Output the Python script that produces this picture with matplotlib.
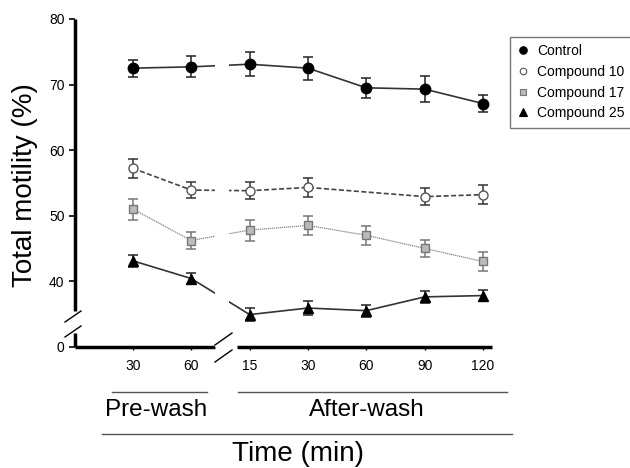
import numpy as np
import matplotlib.pyplot as plt
import matplotlib.transforms as mtransforms
from matplotlib.lines import Line2D

plt.rcParams['font.family'] = ['Liberation Sans', 'DejaVu Sans']

W, H = 630, 468

# time points (min); first two are pre-wash, rest after-wash
tick_labels = ['30', '60', '15', '30', '60', '90', '120']

control = [72.5, 72.7, 73.1, 72.5, 69.5, 69.3, 67.1]
control_err = [1.3, 1.6, 1.8, 1.75, 1.55, 2.0, 1.25]
comp10 = [57.2, 53.9, 53.8, 54.3, np.nan, 52.9, 53.2]
comp10_err = [1.4, 1.2, 1.3, 1.4, np.nan, 1.3, 1.5]
comp17 = [51.0, 46.2, 47.8, 48.5, 47.0, 45.0, 43.0]
comp17_err = [1.6, 1.3, 1.6, 1.4, 1.45, 1.35, 1.45]
comp25 = [43.1, 40.4, 34.9, 35.9, 35.5, 37.6, 37.8]
comp25_err = [0.9, 0.9, 1.0, 1.0, 0.9, 0.9, 0.9]


def px(x, y):
    # pixel position -> figure fraction
    return x / W, 1 - y / H


fig = plt.figure(figsize=(6.3, 4.68), dpi=100)
ax = fig.add_axes([75 / W, 1 - 346.7 / H, (491.7 - 75) / W, (346.7 - 19) / H])

x = np.arange(len(tick_labels))

series = [
    # label, values, errors, marker, ms, face, edge, linestyle, line colour, lw, err colour
    ('Control', control, control_err, 'o', 7.5, 'black', 'black', '-', '#333333', 1.2, '#222222'),
    ('Compound 10', comp10, comp10_err, 'o', 6.5, 'white', '#555555', (0, (3, 1.5)), '#444444', 1.2, '#333333'),
    ('Compound 17', comp17, comp17_err, 's', 6, '#bbbbbb', '#777777', (0, (1, 0.6)), '#888888', 0.9, '#777777'),
    ('Compound 25', comp25, comp25_err, '^', 7.5, 'black', 'black', '-', '#333333', 1.2, '#222222'),
]

handles = []
for label, vals, errs, mk, ms, fc, ec, ls, lc, lw, erc in series:
    vals = np.array(vals, dtype=float)
    errs = np.array(errs, dtype=float)
    ok = ~np.isnan(vals)
    ax.plot(x[ok], vals[ok], linestyle=ls, color=lc, lw=lw, zorder=2)
    ax.errorbar(x[ok], vals[ok], yerr=errs[ok], fmt='none', ecolor=erc,
                elinewidth=1.1, capsize=3.5, capthick=1.1, zorder=3)
    ax.plot(x[ok], vals[ok], linestyle='none', marker=mk, ms=ms,
            markerfacecolor=fc, markeredgecolor=ec, markeredgewidth=1, zorder=4)
    handles.append(Line2D([], [], linestyle='none', marker=mk, ms=ms * 0.72,
                          markerfacecolor=fc, markeredgecolor=ec, markeredgewidth=0.8,
                          label=label))

# gap in the lines at the time-axis break
ax.axvspan(1.414, 1.646, color='white', lw=0, zorder=2.5)

ax.set_xlim(-0.994, 6.15)
ax.set_ylim(30, 80)
ax.set_xticks(x)
ax.set_xticklabels(tick_labels, fontsize=10)
ax.set_yticks([30, 40, 50, 60, 70, 80])
ax.set_yticklabels(['0', '40', '50', '60', '70', '80'], fontsize=10)
ax.tick_params(axis='x', length=2.5, width=1, pad=6)
ax.tick_params(axis='y', length=4.5, width=1.2, pad=3)

for s in ax.spines.values():
    s.set_visible(False)

# broken spines
ytr = mtransforms.blended_transform_factory(ax.transAxes, ax.transData)
xtr = mtransforms.blended_transform_factory(ax.transData, ax.transAxes)
for y0, y1 in [(30, 32.1), (35.4, 80)]:
    ax.plot([0, 0], [y0, y1], transform=ytr, color='black', lw=2.5,
            solid_capstyle='butt', clip_on=False)
for x0, x1 in [(-0.994, 1.406), (1.78, 6.15)]:
    ax.plot([x0, x1], [0, 0], transform=xtr, color='black', lw=2.5,
            solid_capstyle='butt', clip_on=False)

# break marks
for (ax0, ay0), (ax1, ay1) in [((65, 322), (81, 311)), ((65, 337), (81, 326)),
                              ((215, 345), (232, 333)), ((215, 362), (232, 350))]:
    a, b = px(ax0, ay0)
    c, d = px(ax1, ay1)
    fig.add_artist(Line2D([a, c], [b, d], color='black', lw=1))

# group brackets below the axis
for (x0, x1, yy) in [(111.7, 206.7, 392.3), (238.3, 506.7, 392.3), (102.3, 511.7, 434.3)]:
    a, b = px(x0, yy)
    c, d = px(x1, yy)
    fig.add_artist(Line2D([a, c], [b, d], color='#555555', lw=1))

fig.text(*px(156.5, 410.5), 'Pre-wash', fontsize=17.5, ha='center', va='center')
fig.text(*px(367, 410.5), 'After-wash', fontsize=17.5, ha='center', va='center')
fig.text(*px(297.5, 454), 'Time (min)', fontsize=20, ha='center', va='center')
fig.text(*px(25, 185), 'Total motility (%)', fontsize=20, ha='center', va='center',
         rotation=90)

fig.legend(handles=handles, loc='upper left', bbox_to_anchor=px(510, 36.7),
           frameon=True, fancybox=False, edgecolor='#777777', framealpha=1,
           fontsize=10, handlelength=0.8, handletextpad=0.6, labelspacing=0.48,
           borderpad=0.55, borderaxespad=0)

fig.savefig('out.png', dpi=100)
